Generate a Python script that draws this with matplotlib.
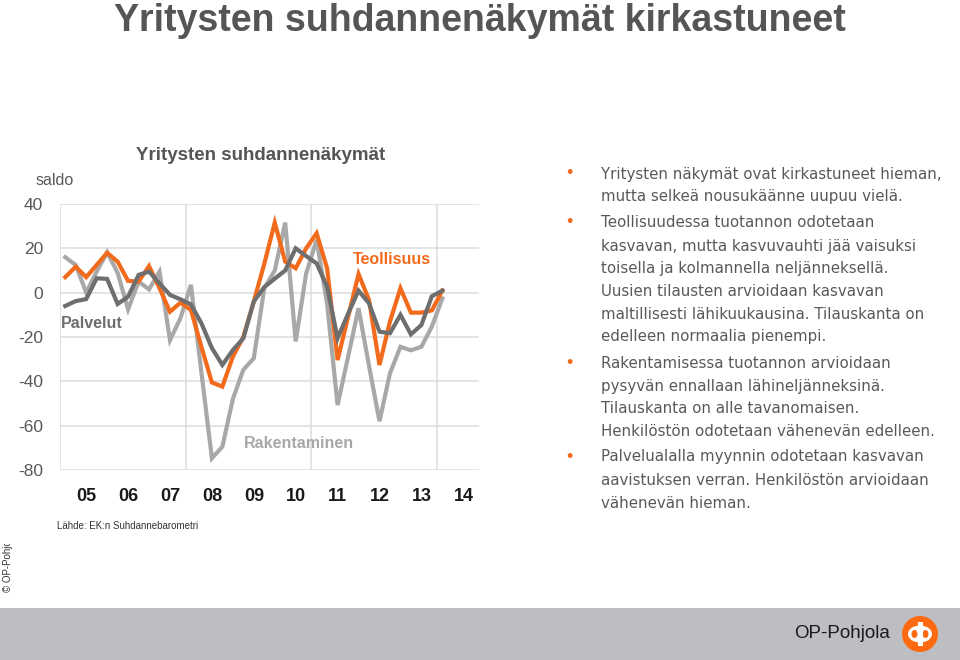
import matplotlib
matplotlib.use("Agg")
import matplotlib.pyplot as plt
import numpy as np
from matplotlib.patches import Rectangle, Circle, Ellipse
from matplotlib.transforms import Bbox

# ---------------- data ----------------
start_year = 2005
teollisuus = [7, 11.7, 7, 12.5, 18, 14, 5.3, 5, 12, 2, -8.6, -4.5, -7.8, -24.4, -40.5, -42.4,
              -28.9, -20, -4, 13, 31.6, 14, 11, 20, 26.8, 11, -30.4, -11, 8.4, -3.3, -32.6,
              -13, 2, -9, -9, -8, 1]
palvelut = [-6, -3.8, -2.9, 6.5, 6.2, -5.1, -1.8, 8, 9.5, 4.2, -1, -3, -5.3, -13.8, -25, -32.6,
            -25.9, -20.6, -4, 2.5, 6.3, 10, 20, 16.5, 13.2, 2.7, -20.6, -9.5, 0.9, -4.8, -17.6,
            -18.3, -10, -18.8, -14.6, -1.6, 0.9]
rakentaminen = [16, 12.5, 0, 9.5, 18.2, 9, -7.5, 5, 1.5, 9.5, -21.4, -11.5, 3.5, -36, -74.7, -69.5,
                -48, -34.8, -29.6, 2, 10, 31.6, -22, 8.7, 23.8, -5, -50.7, -29, -7, -33, -58,
                -36.4, -24.4, -26, -24.4, -15.3, -2.6]
year_labels = ["05", "06", "07", "08", "09", "10", "11", "12", "13", "14"]
y_ticks = [40, 20, 0, -20, -40, -60, -80]

bullets = [
    ["Yritysten näkymät ovat kirkastuneet hieman,",
     "mutta selkeä nousukäänne uupuu vielä."],
    ["Teollisuudessa tuotannon odotetaan",
     "kasvavan, mutta kasvuvauhti jää vaisuksi",
     "toisella ja kolmannella neljänneksellä.",
     "Uusien tilausten arvioidaan kasvavan",
     "maltillisesti lähikuukausina. Tilauskanta on",
     "edelleen normaalia pienempi."],
    ["Rakentamisessa tuotannon arvioidaan",
     "pysyvän ennallaan lähineljänneksinä.",
     "Tilauskanta on alle tavanomaisen.",
     "Henkilöstön odotetaan vähenevän edelleen."],
    ["Palvelualalla myynnin odotetaan kasvavan",
     "aavistuksen verran. Henkilöstön arvioidaan",
     "vähenevän hieman."],
]

# ---------------- style ----------------
ORANGE = "#f26a1b"
DARK = "#6e6e6e"
LIGHT = "#a8a8a8"
TXT = "#595959"
GRID = "#dcdcdc"
plt.rcParams['font.family'] = ['Liberation Sans', 'DejaVu Sans']

W, H = 960, 660
fig = plt.figure(figsize=(W / 100, H / 100), dpi=100)


def fx(x):
    return x / W


def fy(y):
    return 1 - y / H


# background overlay axes in pixel coords
bg = fig.add_axes([0, 0, 1, 1], zorder=0)
bg.set_xlim(0, W)
bg.set_ylim(H, 0)
bg.axis("off")
bg.add_patch(Rectangle((0, 608), W, 52, color="#bdbec1", lw=0))
# logo
cx, cy = 920, 634
bg.add_patch(Circle((cx, cy), 18, color="#ff6a10", lw=0))
bg.add_patch(Ellipse((cx, cy), 24, 17, color="white", lw=0))
bg.add_patch(Ellipse((cx - 5.5, cy), 6, 8, color="#ff6a10", lw=0))
bg.add_patch(Ellipse((cx + 5.5, cy), 6, 8, color="#ff6a10", lw=0))
bg.add_patch(Rectangle((cx - 2.5, cy - 12), 5, 24, color="white", lw=0))

# ---------------- chart ----------------
ax = fig.add_axes([fx(60), fy(470), (479 - 60) / W, (470 - 204) / H], zorder=2)
ax.patch.set_alpha(0)
n = len(teollisuus)
x = start_year + (np.arange(n) + 0.5) / 4.0
ax.set_xlim(2005, 2015)
ax.set_ylim(-80, 40)
for s in ax.spines.values():
    s.set_visible(False)
ax.set_yticks(y_ticks)
ax.set_yticklabels([str(v) for v in y_ticks], fontsize=12.5, color=TXT)
ax.yaxis.grid(True, color=GRID, lw=1.1)
for xv in [2005, 2008, 2011, 2014]:
    ax.axvline(xv, color=GRID, lw=1.1, zorder=0)
ax.set_xticks([2005 + k + 0.63 for k in range(len(year_labels))])
ax.set_xticklabels(year_labels, fontsize=13, fontweight="bold", color="#1a1a1a")
ax.tick_params(axis="y", length=0, pad=12)
ax.tick_params(axis="x", length=0, pad=13)
ax.set_axisbelow(True)

lw = 3.0
ax.plot(x, rakentaminen, color=LIGHT, lw=lw, solid_joinstyle="miter", zorder=3)
ax.plot(x, teollisuus, color=ORANGE, lw=lw, solid_joinstyle="miter", zorder=4)
ax.plot(x, palvelut, color=DARK, lw=lw, solid_joinstyle="miter", zorder=5)

fig.text(fx(392), fy(260), "Teollisuus", color=ORANGE, fontsize=11.5, fontweight="bold",
         ha="center", va="center")
fig.text(fx(92), fy(323), "Palvelut", color=DARK, fontsize=11.5, fontweight="bold",
         ha="center", va="center")
fig.text(fx(299), fy(444), "Rakentaminen", color=LIGHT, fontsize=11.5, fontweight="bold",
         ha="center", va="center")

fig.text(fx(261), fy(155), "Yritysten suhdannenäkymät", color="#555555", fontsize=13.5,
         fontweight="bold", ha="center", va="center")
fig.text(fx(55), fy(181), "saldo", color=TXT, fontsize=11.5, ha="center", va="center")
fig.text(fx(57), fy(526), "Lähde: EK:n Suhdannebarometri", color="#333333", fontsize=7,
         ha="left", va="center")

# main title
fig.text(fx(480), fy(31), "Yritysten suhdannenäkymät kirkastuneet", color="#555555",
         fontsize=27, fontweight="bold", ha="center", va="baseline",
         family=['Liberation Sans', 'DejaVu Sans'])

# vertical copyright, clipped
t = fig.text(fx(8), fy(592), "© OP-Pohjola", rotation=90, fontsize=7, color="#333333",
             ha="center", va="bottom")
t.set_clip_box(Bbox([[0, 0], [30, H - 544]]))
t.set_clip_on(True)

# logo text
fig.text(fx(842), fy(634), "OP-Pohjola", color="#1a1a1a", fontsize=13.5, ha="center",
         va="center", family=['Liberation Sans', 'DejaVu Sans'])

# right bullet text
line_ys = [[174, 197], [222.5, 246, 268.5, 291.5, 314, 337], [363, 386, 408.5, 431.5],
           [457, 480.5, 503]]
for blk, ys in zip(bullets, line_ys):
    fig.text(fx(569), fy(ys[0]), "•", color=ORANGE, fontsize=13, ha="center", va="center")
    for line, yy in zip(blk, ys):
        fig.text(fx(601), fy(yy), line, color=TXT, fontsize=10.8, ha="left", va="center",
                 family=['DejaVu Sans'])

fig.savefig("out.png", dpi=100)
